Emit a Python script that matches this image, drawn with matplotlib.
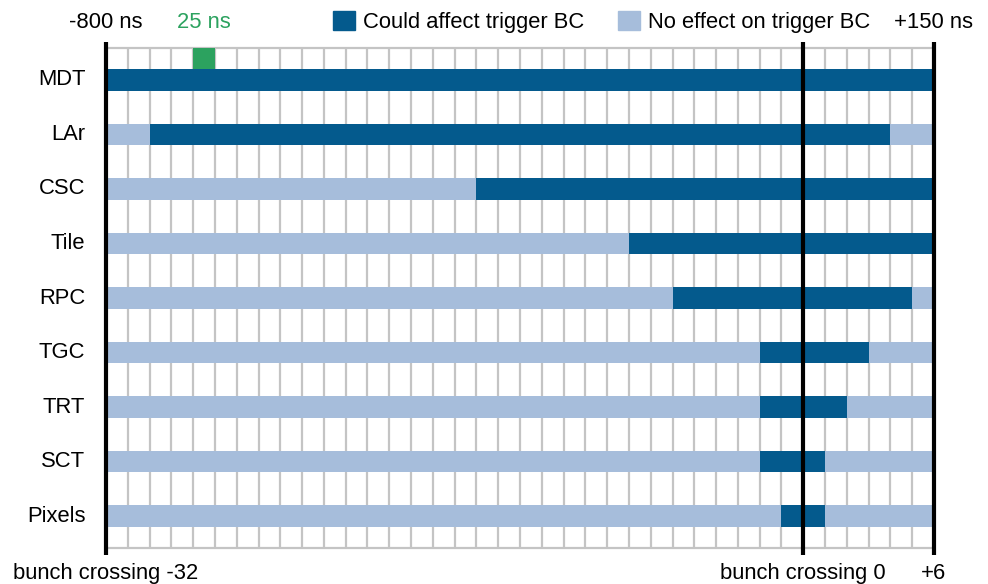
import matplotlib.pyplot as plt
from matplotlib.patches import Patch

plt.rcParams["font.family"] = ["Liberation Sans", "DejaVu Sans"]

# readout window in bunch crossings (25 ns each)
first_bc = -32
last_bc = 6
trigger_bc = 0

detectors = ["MDT", "LAr", "CSC", "Tile", "RPC", "TGC", "TRT", "SCT", "Pixels"]
affect_start = [-32, -30, -15, -8, -6, -2, -2, -2, -1]
affect_end = [6, 4, 6, 6, 5, 3, 2, 1, 1]

bc_marker = -28  # the "25 ns" green box

top_labels = ["-800 ns", "+150 ns"]
bottom_labels = ["bunch crossing -32", "bunch crossing 0", "+6"]

DARK = "#045a8d"
LIGHT = "#a6bddb"
GREEN = "#2ca25f"
GRID = "#c4c4c4"
FS = 15.8

fig = plt.figure(figsize=(9.88, 5.84), dpi=100)
ax = fig.add_axes([106 / 988, 36 / 584, 828 / 988, 500 / 584])

rows = list(range(len(detectors)))
ylo, yhi = -0.587, len(detectors) - 1 + 0.587
ax.set_xlim(first_bc, last_bc)
ax.set_ylim(yhi, ylo)

# grid
for x in range(first_bc + 1, last_bc):
    ax.axvline(x, color=GRID, lw=1.6, zorder=1)
ax.axhline(ylo, color=GRID, lw=1.6, zorder=1, clip_on=False)
ax.axhline(yhi, color=GRID, lw=1.6, zorder=1, clip_on=False)

bar_h = 0.4
ax.barh(rows, last_bc - first_bc, left=first_bc, height=bar_h, color=LIGHT, zorder=2)
widths = [e - s for s, e in zip(affect_start, affect_end)]
ax.barh(rows, widths, left=affect_start, height=bar_h, color=DARK, zorder=3)

# 25 ns box
ax.bar(bc_marker, -bar_h / 2 - ylo, bottom=ylo, width=1, align="edge",
       color=GREEN, zorder=3)
ax.text(bc_marker + 0.5, -1.06, "25 ns", color=GREEN, fontsize=FS,
        ha="center", va="center")

# thick black lines
for x in (first_bc, trigger_bc, last_bc):
    ax.plot([x, x], [ylo - 0.11, yhi + 0.13], color="black", lw=3,
            solid_capstyle="butt", clip_on=False, zorder=5)

ax.text(first_bc, -1.06, top_labels[0], fontsize=FS, ha="center", va="center")
ax.text(last_bc, -1.06, top_labels[1], fontsize=FS, ha="center", va="center")
for x, lab in zip((first_bc, trigger_bc, last_bc), bottom_labels):
    ax.text(x, yhi + 0.47, lab, fontsize=FS, ha="center", va="center")

for r, name in zip(rows, detectors):
    ax.text(first_bc - 0.95, r, name, fontsize=FS, ha="right", va="center")

ax.legend(handles=[Patch(color=DARK, label="Could affect trigger BC"),
                   Patch(color=LIGHT, label="No effect on trigger BC")],
          ncol=2, loc="center", bbox_to_anchor=(0.609, 0.962),
          bbox_transform=fig.transFigure, frameon=False, fontsize=FS,
          handlelength=1.0, handleheight=0.95, handletextpad=0.37,
          columnspacing=1.55, borderpad=0, borderaxespad=0)

ax.set_axis_off()
fig.savefig("out.png", dpi=100)
